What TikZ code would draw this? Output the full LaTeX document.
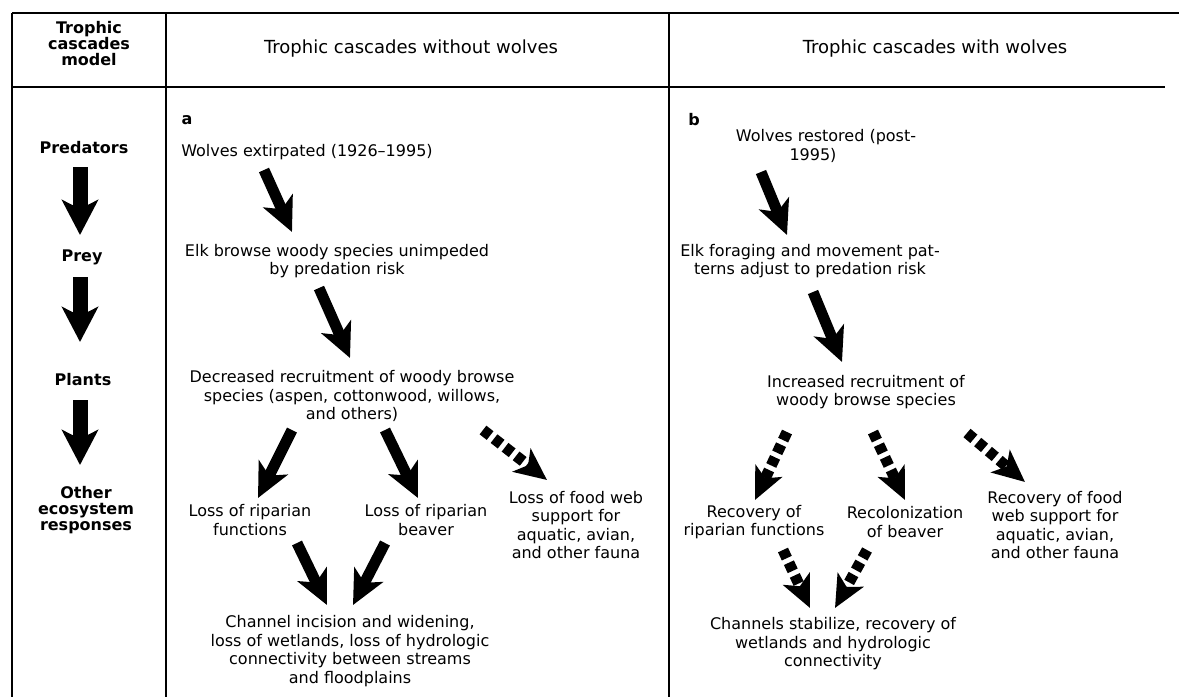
\documentclass[tikz,border=0pt]{standalone}
\usepackage{fontspec}
\setmainfont{DejaVu Sans}
\usetikzlibrary{arrows.meta}
\tikzset{
    txt/.style={font=\fontsize{16}{18.5}\selectfont, align=center, inner sep=0pt},
    headtxt/.style={font=\fontsize{18}{20}\selectfont, align=center, inner sep=0pt},
    boldtxt/.style={font=\fontsize{16}{16}\selectfont\bfseries, align=center, inner sep=0pt},
    tablerule/.style={line width=1.2pt},
    colarrow/.style={line width=15pt, -{Stealth[length=35pt,width=36pt,inset=9pt]}},
    fullarrow/.style={line width=11pt, -{Stealth[length=34pt,width=32pt,inset=9pt]}},
    dasharrow/.style={line width=11pt, dash pattern=on 9pt off 5pt, -{Stealth[length=32pt,width=29pt,inset=8pt]}},
}

\begin{document}
\begin{tikzpicture}[x=1pt,y=-1pt]
        \useasboundingbox (0,0) rectangle (1179,697);
        % Table rules
        \draw[tablerule] (12,13) -- (1179,13);
        \draw[tablerule] (12,87) -- (1165,87);
        \foreach \xcol in {12,166,669}
            \draw[tablerule] (\xcol,13) -- (\xcol,697);
        % Header
        \node[boldtxt] (hdrModel) at (89,44) {Trophic\\cascades\\model};
        \node[headtxt] (hdrA) at (411,49) {Trophic cascades without wolves};
        \node[headtxt] (hdrB) at (935,49) {Trophic cascades with wolves};
        % Model column
        \node[boldtxt] (predL) at (84,148) {Predators};
        \node[boldtxt] (preyL) at (82,257) {Prey};
        \node[boldtxt] (plantL) at (83,380) {Plants};
        \node[boldtxt] (otherL) at (86,510) {Other\\ecosystem\\responses};
        \draw[colarrow] ([shift={(-4,19)}]predL.center) -- ([shift={(-2,-22)}]preyL.center);
        \draw[colarrow] ([shift={(-2,20)}]preyL.center) -- ([shift={(-3,-38)}]plantL.center);
        \draw[colarrow] ([shift={(-3,20)}]plantL.center) -- ([shift={(-6,-45)}]otherL.center);
        % Panel a: without wolves
        \node[boldtxt] (labA) at (187,120) {a};
        \node[txt] (wolvesA) at (307,152) {Wolves extirpated (1926–1995)};
        \node[txt] (elkA) at (337,261) {Elk browse woody species unimpeded\\by predation risk};
        \node[txt] (declA) at (352,396) {Decreased recruitment of woody browse\\species (aspen, cottonwood, willows,\\and others)};
        \node[txt] (ripA) at (250,520) {Loss of riparian\\functions};
        \node[txt] (beavA) at (426,520) {Loss of riparian\\beaver};
        \node[txt] (foodA) at (576,525) {Loss of food web\\support for\\aquatic, avian,\\and other fauna};
        \node[txt] (chanA) at (350,651) {Channel incision and widening,\\loss of wetlands, loss of hydrologic\\connectivity between streams\\and floodplains};
        \draw[fullarrow] ([shift={(-43,18)}]wolvesA.center) -- ([shift={(-45,-29)}]elkA.center);
        \draw[fullarrow] ([shift={(-18,27)}]elkA.center) -- ([shift={(-2,-38)}]declA.center);
        \draw[fullarrow] ([shift={(-60,34)}]declA.center) -- ([shift={(8,-22)}]ripA.center);
        \draw[fullarrow] ([shift={(33,34)}]declA.center) -- ([shift={(-8,-22)}]beavA.center);
        \draw[dasharrow] ([shift={(131,34)}]declA.center) -- ([shift={(-29,-45)}]foodA.center);
        \draw[fullarrow] ([shift={(47,23)}]ripA.center) -- ([shift={(-23,-46)}]chanA.center);
        \draw[fullarrow] ([shift={(-41,23)}]beavA.center) -- ([shift={(3,-46)}]chanA.center);
        % Panel b: with wolves
        \node[boldtxt] (labB) at (694,120) {b};
        \node[txt] (wolvesB) at (826,146) {Wolves restored (post-\\1995)\hspace*{26pt}};
        \node[txt] (elkB) at (810,261) {Elk foraging and movement pat-\\terns adjust to predation risk};
        \node[txt] (inclB) at (866,392) {Increased recruitment of\\woody browse species};
        \node[txt] (ripB) at (754,522) {Recovery of\\riparian functions};
        \node[txt] (recolB) at (905,522) {Recolonization\\of beaver};
        \node[txt] (foodB) at (1055,525) {Recovery of food\\web support for\\aquatic, avian,\\and other fauna};
        \node[txt] (chanB) at (833,644) {Channels stabilize, recovery of\\wetlands and hydrologic\\connectivity};
        \draw[fullarrow] ([shift={(-65,26)}]wolvesB.center) -- ([shift={(-23,-26)}]elkB.center);
        \draw[fullarrow] ([shift={(3,31)}]elkB.center) -- ([shift={(-24,-30)}]inclB.center);
        \draw[dasharrow] ([shift={(-79,40)}]inclB.center) -- ([shift={(1,-22)}]ripB.center);
        \draw[dasharrow] ([shift={(7,40)}]inclB.center) -- ([shift={(0,-22)}]recolB.center);
        \draw[dasharrow] ([shift={(101,41)}]inclB.center) -- ([shift={(-30,-43)}]foodB.center);
        \draw[dasharrow] ([shift={(29,28)}]ripB.center) -- ([shift={(-23,-36)}]chanB.center);
        \draw[dasharrow] ([shift={(-38,28)}]recolB.center) -- ([shift={(2,-36)}]chanB.center);
\end{tikzpicture}
\end{document}
